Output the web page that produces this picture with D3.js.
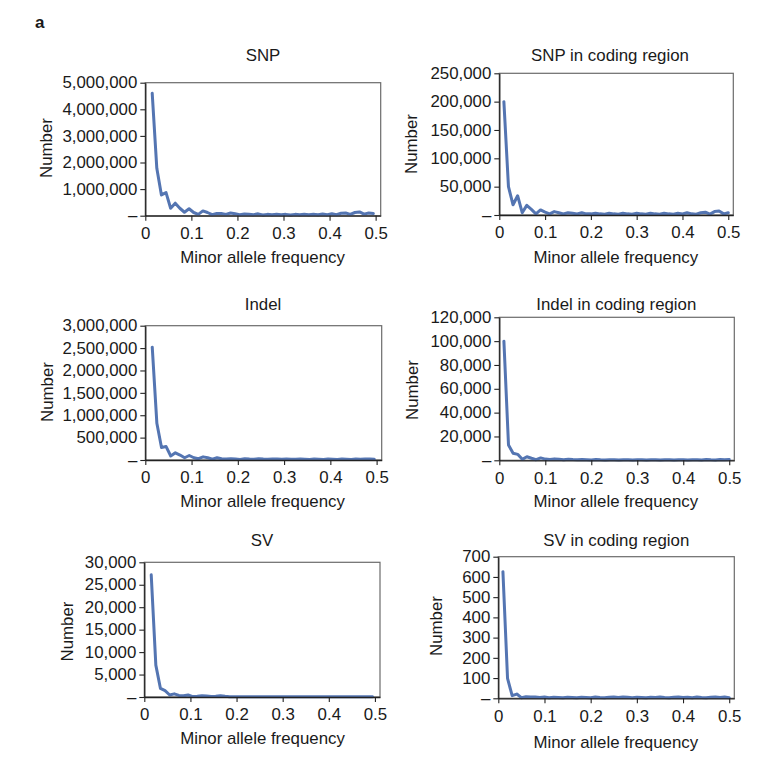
<!DOCTYPE html>
<html>
<head>
<meta charset="utf-8">
<script src="https://cdn.jsdelivr.net/npm/d3@7/dist/d3.min.js"></script>
<style>
  html, body { margin: 0; padding: 0; background: #fff; }
  svg text { font-family: "Liberation Sans", Arial, Helvetica, sans-serif; fill: #1a1a1a; }
</style>
</head>
<body>
<svg id="chart" width="761" height="771"></svg>
<script>
// ---- Data ----
const mafLeft = [0.015,0.025,0.035,0.045,0.055,0.065,0.075,0.085,0.095,0.105,
  0.115,0.125,0.135,0.145,0.155,0.165,0.175,0.185,0.195,0.205,
  0.215,0.225,0.235,0.245,0.255,0.265,0.275,0.285,0.295,0.305,
  0.315,0.325,0.335,0.345,0.355,0.365,0.375,0.385,0.395,0.405,
  0.415,0.425,0.435,0.445,0.455,0.465,0.475,0.485,0.495];
const mafRight = [0.01,0.02,0.03,0.04,0.05,0.06,0.07,0.08,0.09,0.10,
  0.11,0.12,0.13,0.14,0.15,0.16,0.17,0.18,0.19,0.20,
  0.21,0.22,0.23,0.24,0.25,0.26,0.27,0.28,0.29,0.30,
  0.31,0.32,0.33,0.34,0.35,0.36,0.37,0.38,0.39,0.40,
  0.41,0.42,0.43,0.44,0.45,0.46,0.47,0.48,0.49,0.50];

const snp = [4600000,1780000,780000,870000,280000,470000,280000,130000,260000,120000,
  50000,180000,120000,40000,80000,80000,50000,100000,70000,40000,
  60000,50000,40000,70000,30000,50000,40000,50000,40000,50000,
  30000,50000,40000,50000,40000,50000,40000,60000,40000,70000,
  40000,90000,100000,50000,120000,140000,60000,100000,80000];
const snpCoding = [200000,50000,18000,34000,4000,17000,10000,2000,9000,5000,
  2000,6000,4000,2000,4000,3000,2000,4000,2000,2000,
  3000,2000,1500,3000,2000,1500,3000,2000,1500,3000,
  2000,1500,3000,2000,1500,3000,2000,1500,3000,2000,
  4000,2000,1500,4000,5000,1500,6000,7000,2000,4000];
const indel = [2520000,820000,280000,300000,90000,160000,110000,50000,100000,50000,
  30000,70000,50000,20000,50000,30000,20000,30000,20000,10000,
  30000,20000,15000,30000,20000,15000,25000,20000,15000,20000,
  15000,15000,20000,15000,10000,20000,15000,10000,20000,15000,
  10000,20000,15000,10000,20000,15000,20000,25000,15000];
const indelCoding = [100000,12900,5900,5000,800,3000,1700,500,2000,1000,
  600,1200,800,400,900,600,400,700,500,300,
  600,400,300,500,400,300,500,400,300,500,
  400,300,500,400,300,500,400,300,500,400,
  300,500,400,300,600,400,300,600,500,700];
const sv = [27200,7100,1900,1400,450,700,350,300,450,100,
  150,300,200,100,150,300,150,50,60,50,
  40,50,40,30,50,40,30,40,30,40,
  30,40,30,40,30,40,30,40,30,40,
  30,40,30,40,30,40,30,40,30];
const svCoding = [626,99,13,21,3,8,7,6,4,6,
  3,5,4,3,5,4,3,5,4,3,
  6,4,3,5,6,4,7,5,3,5,
  4,3,5,4,6,4,3,5,6,4,
  5,3,6,4,3,5,7,4,6,3];

const titles = ["SNP","SNP in coding region","Indel","Indel in coding region","SV","SV in coding region"];
const xTicks = [0,0.1,0.2,0.3,0.4,0.5];
const yTicksSnp = [0,1000000,2000000,3000000,4000000,5000000];
const yTicksSnpCoding = [0,50000,100000,150000,200000,250000];
const yTicksIndel = [0,500000,1000000,1500000,2000000,2500000,3000000];
const yTicksIndelCoding = [0,20000,40000,60000,80000,100000,120000];
const yTicksSv = [0,5000,10000,15000,20000,25000,30000];
const yTicksSvCoding = [0,100,200,300,400,500,600,700];
const xLabel = "Minor allele frequency";
const yLabel = "Number";
const xMax = 0.511;

// ---- Layout (pixel geometry) ----
const panels = [
  {x: mafLeft,  y: snp,         ticks: yTicksSnp,         box:[145.3,380.7,82.7,215.7],  title:[263,61],    ylab:[51.5,148],  xlab:[262.5,262.7]},
  {x: mafRight, y: snpCoding,   ticks: yTicksSnpCoding,   box:[499.3,733.3,73.3,215],    title:[610,61],    ylab:[416.5,144], xlab:[615.8,262.5]},
  {x: mafLeft,  y: indel,       ticks: yTicksIndel,       box:[145.3,381.7,325.7,460],   title:[263,310],   ylab:[52.5,392],  xlab:[262.5,506.8]},
  {x: mafRight, y: indelCoding, ticks: yTicksIndelCoding, box:[499.3,734.3,317.3,460.3], title:[616.3,309.5], ylab:[418.3,390], xlab:[615.8,507]},
  {x: mafLeft,  y: sv,          ticks: yTicksSv,          box:[144.3,380,562.3,697],     title:[262,545.7], ylab:[73.3,631.5], xlab:[262.5,743.8]},
  {x: mafRight, y: svCoding,    ticks: yTicksSvCoding,    box:[498.3,734.3,556.7,698.3], title:[616.3,545.7], ylab:[441.7,626], xlab:[615.8,747.5]}
];

const svg = d3.select("#chart");
const fmt = d3.format(",");
const FS = 16.2;
const SX = 1.04; // slight horizontal widening of glyphs, as in the reference

svg.append("text").attr("x", 35).attr("y", 28)
  .attr("font-size", 17).attr("font-weight", "bold").text("a");

function label(g, x, y, txt, rot) {
  g.append("g").attr("transform", `translate(${x},${y})` + (rot ? " rotate(-90)" : ""))
    .append("text").attr("transform", `scale(${SX},1)`)
    .attr("text-anchor", "middle").attr("font-size", FS).text(txt);
}

panels.forEach((p, i) => {
  const [l, r, t, b] = p.box;
  const x = d3.scaleLinear().domain([0, xMax]).range([l, r]);
  const y = d3.scaleLinear().domain([0, d3.max(p.ticks)]).range([b, t]);
  const g = svg.append("g");

  // frame
  g.append("rect").attr("x", l).attr("y", t).attr("width", r - l).attr("height", b - t)
    .attr("fill", "none").attr("stroke", "#6b6b6b").attr("stroke-width", 1.2);

  // line
  const line = d3.line().x((d, k) => x(p.x[k])).y(d => y(d));
  g.append("path").datum(p.y).attr("d", line)
    .attr("fill", "none").attr("stroke", "#5475b2").attr("stroke-width", 3)
    .attr("stroke-linejoin", "round").attr("stroke-linecap", "round");

  // x axis
  const xa = g.append("g").attr("transform", `translate(0,${b})`)
    .call(d3.axisBottom(x).tickValues(xTicks).tickSize(5).tickSizeOuter(0).tickPadding(7)
      .tickFormat(d => d === 0 ? "0" : d3.format(".1f")(d)));
  // y axis
  const ya = g.append("g").attr("transform", `translate(${l},0)`)
    .call(d3.axisLeft(y).tickValues(p.ticks).tickSize(5).tickSizeOuter(0).tickPadding(2.7)
      .tickFormat(d => d === 0 ? "\u2013" : fmt(d)));
  [xa, ya].forEach(a => {
    a.selectAll("text").attr("font-size", FS).attr("font-family", null).attr("fill", "#1a1a1a")
      .attr("transform", `scale(${SX},1)`);
    a.selectAll("line").attr("stroke", "#222").attr("stroke-width", 1.1);
    a.select(".domain").attr("stroke", "#222").attr("stroke-width", 1.3);
    a.attr("font-family", null);
  });

  label(g, p.title[0], p.title[1], titles[i], false);
  label(g, p.xlab[0], p.xlab[1], xLabel, false);
  label(g, p.ylab[0], p.ylab[1], yLabel, true);
});
</script>
</body>
</html>
